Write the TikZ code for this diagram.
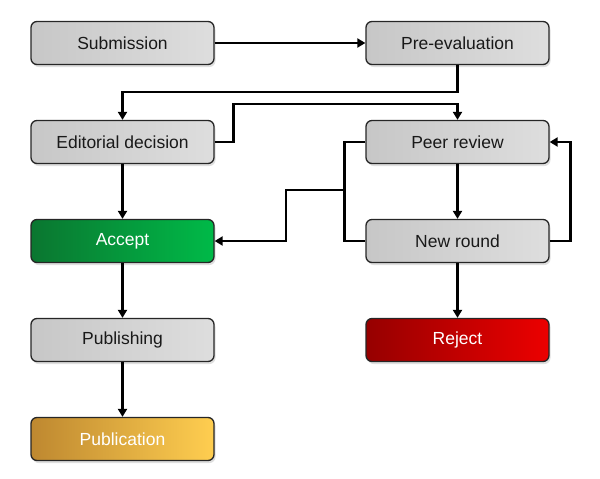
\documentclass[tikz,border=0pt]{standalone}
\usepackage{fontspec}
\setmainfont{Liberation Sans}
\usetikzlibrary{arrows.meta,shadows}
\definecolor{acceptdark}{RGB}{10,118,48}
\definecolor{acceptlight}{RGB}{0,186,72}
\definecolor{rejectdark}{RGB}{150,0,0}
\definecolor{rejectlight}{RGB}{236,0,0}
\definecolor{pubdark}{RGB}{190,136,48}
\definecolor{publight}{RGB}{255,206,80}

\begin{document}
\begin{tikzpicture}[x=1pt, y=-1pt,
  box/.style={draw=black!85, line width=1.3pt, rounded corners=6pt, minimum width=183pt, minimum height=43pt,
    inner sep=0pt, font=\fontsize{17.5}{19}\selectfont,
    drop shadow={shadow xshift=1.5pt, shadow yshift=-2.5pt, opacity=0.25}},
  graybox/.style={box, left color=black!22, right color=black!13, text=black!90},
  link/.style={line width=2.6pt, -{Triangle[length=8pt,width=9pt]}}]
\useasboundingbox (0,0) rectangle (600,479);
\node[graybox] (sub) at (122.5,43) {Submission};
\node[graybox] (pre) at (457.5,43) {Pre-evaluation};
\node[graybox] (edit) at (122.5,142) {Editorial decision};
\node[graybox] (peer) at (457.5,142) {Peer review};
\node[box, left color=acceptdark, right color=acceptlight, text=white] (acc) at (122.5,241) {Accept};
\node[graybox] (new) at (457.5,241) {New round};
\node[graybox] (pub) at (122.5,340) {Publishing};
\node[box, left color=rejectdark, right color=rejectlight, text=white] (rej) at (457.5,340) {Reject};
\node[box, left color=pubdark, right color=publight, text=white] (publ) at (122.5,439) {Publication};
\coordinate (join) at (345,190);
\draw[link] (sub) -- (pre);
\draw[link] (pre.south) -- ++(0,27) -| (edit.north);
\draw[link] (edit.east) -- ++(19,0) -- ++(0,-38) -| (peer.north);
\draw[line width=2.6pt] (peer.west) -- ++(-21,0) |- (new.west);
\draw[link] (join) -- ++(-59,0) |- (acc.east);
\draw[link] (new.east) -- ++(21,0) |- (peer.east);
\draw[link] (peer) -- (new);
\draw[link] (new) -- (rej);
\draw[link] (edit) -- (acc);
\draw[link] (acc) -- (pub);
\draw[link] (pub) -- (publ);
\end{tikzpicture}
\end{document}
